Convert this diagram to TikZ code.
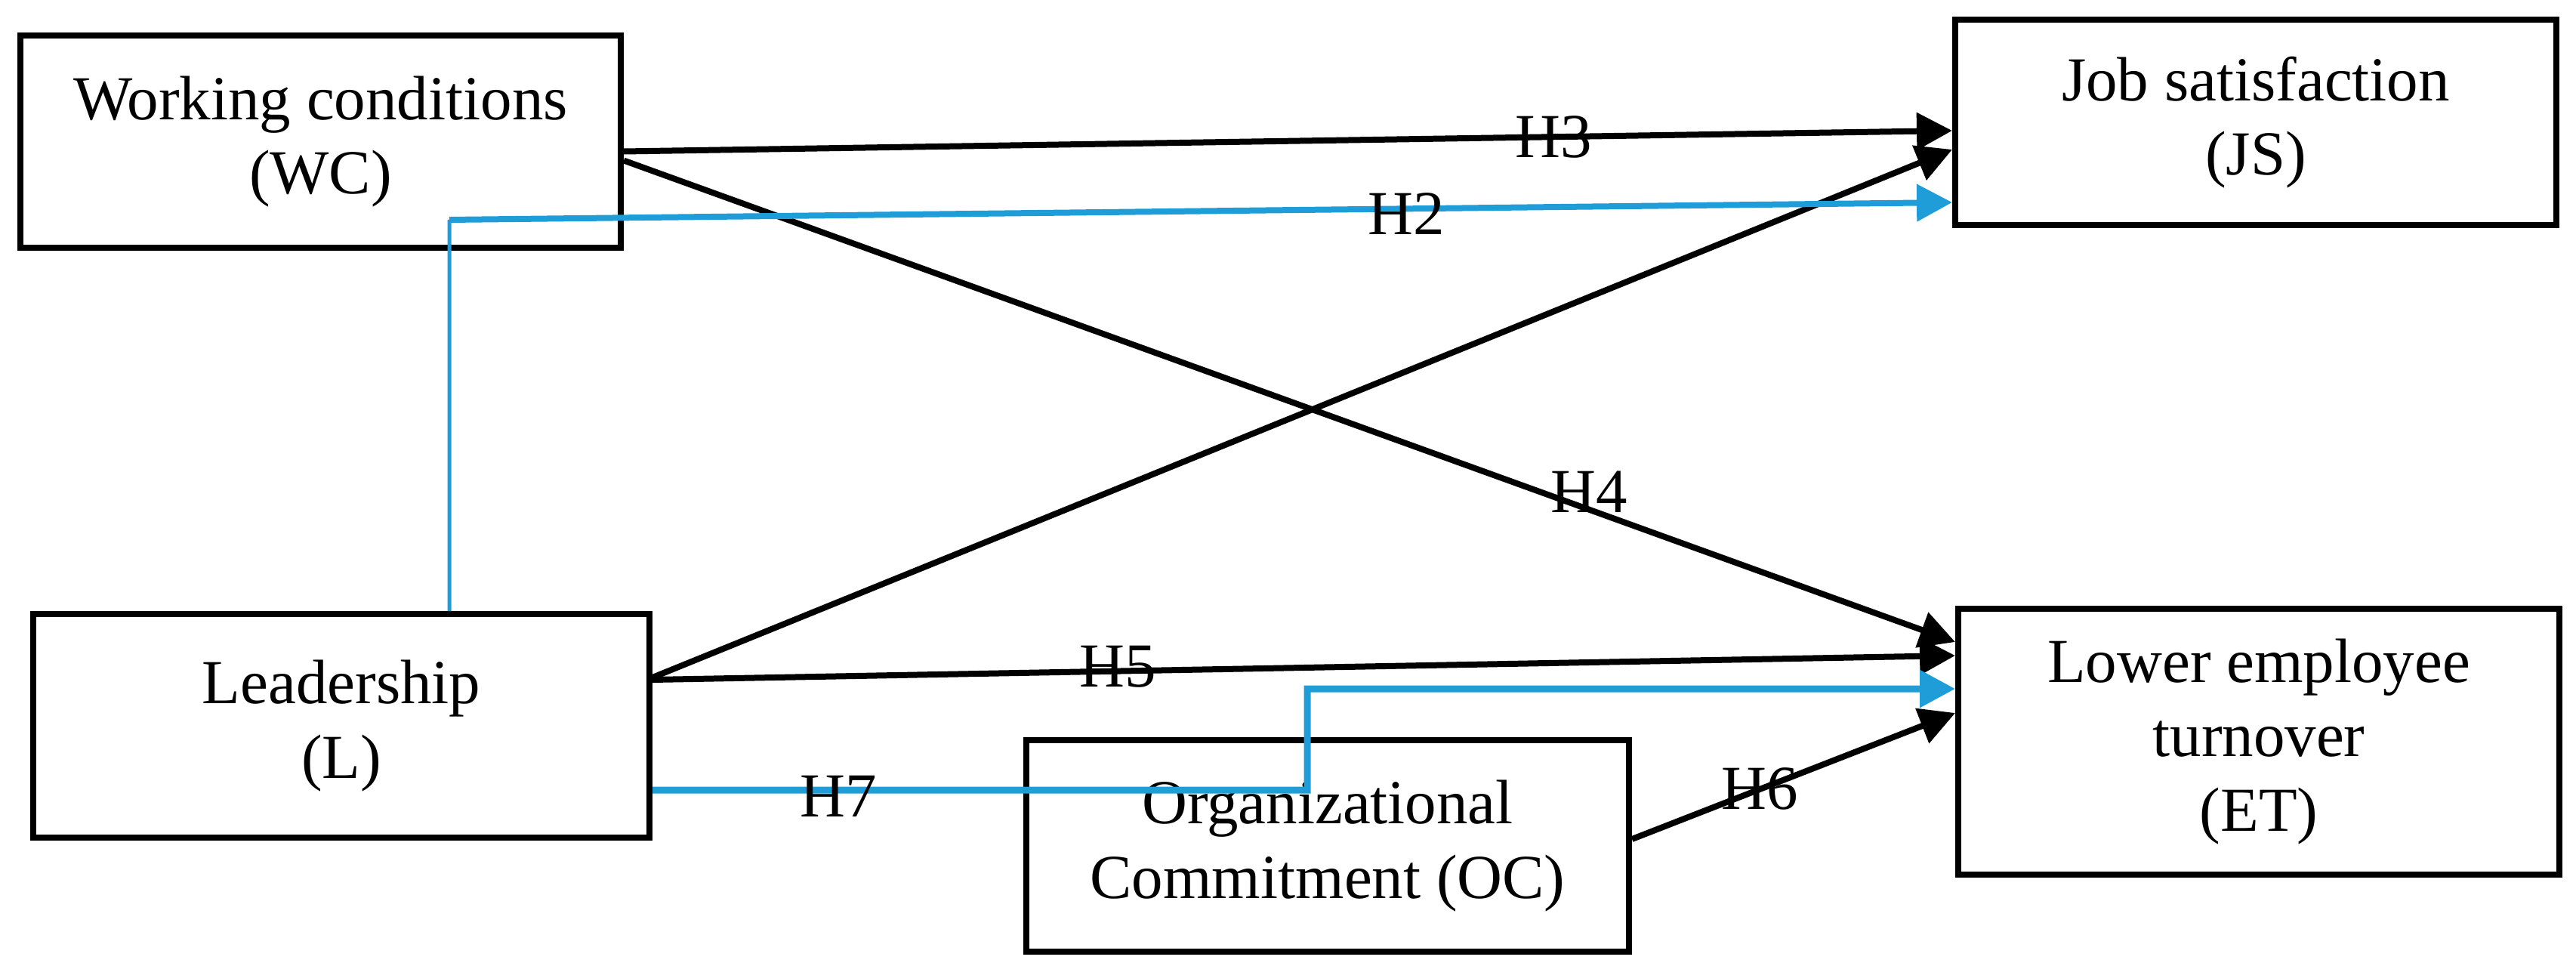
\documentclass[tikz,border=0pt]{standalone}
\usepackage{fontspec}
\setmainfont{Liberation Serif}
\usepackage{tikz}
\usetikzlibrary{arrows.meta,positioning,calc}
\definecolor{hblue}{RGB}{30,157,216}

\begin{document}
\begin{tikzpicture}[line width=0.08cm, -{Triangle[length=0.47cm,width=0.48cm]},
      every node/.append style={font=\fontsize{23.6}{28}\selectfont},
      construct/.style={draw, -, align=center, inner sep=0pt}]
    \useasboundingbox (0,0) rectangle (34.11,-12.79);
    \node (workingconditions) [construct, minimum width=7.95cm, minimum height=2.81cm] at (4.245,-1.875) {Working conditions\\(WC)};
    \node (jobsatisfaction) [construct, minimum width=7.96cm, minimum height=2.72cm] at (29.87,-1.62) {Job satisfaction\\(JS)};
    \node (leadership) [construct, minimum width=8.16cm, minimum height=2.96cm] at (4.52,-9.61) {Leadership\\(L)};
    \node (organizationalcommitment) [construct, minimum width=7.98cm, minimum height=2.80cm] at (17.58,-11.20) {Organizational\\Commitment (OC)};
    \node (loweremployeeturnover) [construct, minimum width=7.96cm, minimum height=3.52cm] at (29.91,-9.82) {Lower employee\\turnover\\(ET)};
    \coordinate (h2corner) at (5.95,-2.91);
    \coordinate (h7corner) at (17.31,-10.46);
    \draw ([yshift=-0.13cm]workingconditions.east) -- node[pos=0.7] {H3} ([yshift=-0.11cm]jobsatisfaction.west);
    \draw ([yshift=-0.25cm]workingconditions.east) -- node[pos=0.725, yshift=0.23cm] {H4} ([yshift=1.32cm]loweremployeeturnover.west);
    \draw ([yshift=0.64cm]leadership.east) -- ([yshift=-0.36cm]jobsatisfaction.west);
    \draw ([yshift=0.61cm]leadership.east) -- node[pos=0.357, yshift=0.06cm] {H5} ([yshift=1.14cm]loweremployeeturnover.west);
    \draw ([yshift=0.09cm]organizationalcommitment.east) -- node[pos=0.396] {H6} ([yshift=0.38cm]loweremployeeturnover.west);
    \draw[hblue, line width=0.05cm, -] ([xshift=1.43cm]leadership.north) -- (h2corner);
    \draw[hblue] (h2corner) -- node[pos=0.637, yshift=-0.07cm, black] {H2} ([yshift=-1.06cm]jobsatisfaction.west);
    \draw[hblue, line width=0.09cm] ([yshift=-0.85cm]leadership.east) -- node[pos=0.284, yshift=-0.08cm, black] {H7} (h7corner) |- ([yshift=0.70cm]loweremployeeturnover.west);
  \end{tikzpicture}
\end{document}
